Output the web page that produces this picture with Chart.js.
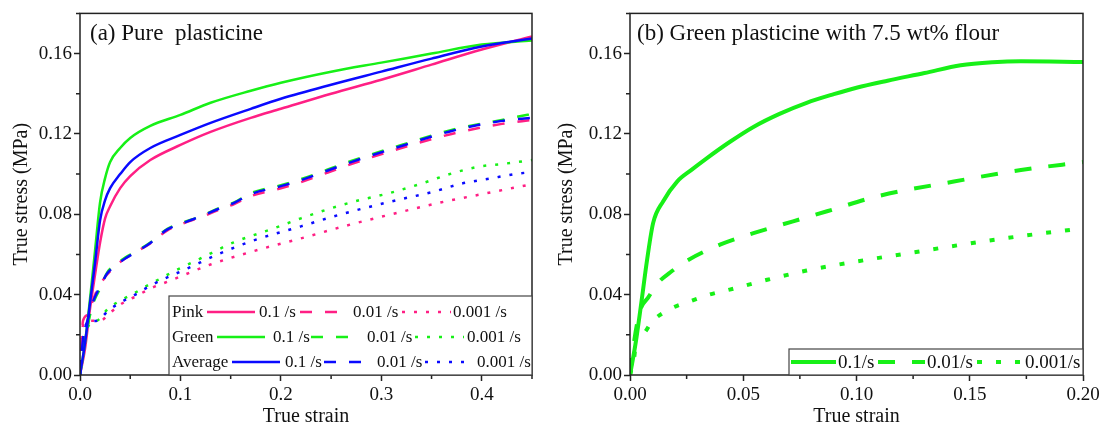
<!DOCTYPE html>
<html>
<head>
<meta charset="utf-8">
<script src="https://cdn.jsdelivr.net/npm/chart.js@4.4.1/dist/chart.umd.min.js"></script>
<style>
  html, body { margin: 0; padding: 0; background: #fff; }
  .panel { position: absolute; top: 0; width: 552px; height: 429px; }
  #panelA { left: 0; }
  #panelB { left: 552px; }
</style>
</head>
<body>
<div class="panel" id="panelA"><canvas id="chartA"></canvas></div>
<div class="panel" id="panelB"><canvas id="chartB"></canvas></div>
<script>
// ---- (a) pure plasticine: true strain vs true stress (MPa) ----
const solidStrainA = [0, 0.005, 0.01, 0.015, 0.02, 0.025, 0.03, 0.04, 0.05, 0.07, 0.1, 0.13, 0.17, 0.2, 0.25, 0.3, 0.35, 0.4, 0.45];
const pinkSolid  = [0, 0.013, 0.033, 0.050, 0.066, 0.078, 0.084, 0.093, 0.099, 0.107, 0.1145, 0.121, 0.128, 0.1325, 0.140, 0.147, 0.1545, 0.162, 0.1685];
const greenSolid = [0, 0.016, 0.038, 0.062, 0.086, 0.098, 0.106, 0.113, 0.118, 0.124, 0.1295, 0.1355, 0.1415, 0.1455, 0.151, 0.1555, 0.160, 0.1645, 0.1665];
const blueSolid  = [0, 0.016, 0.036, 0.056, 0.077, 0.087, 0.093, 0.100, 0.106, 0.113, 0.1195, 0.1255, 0.1325, 0.1375, 0.1445, 0.151, 0.1575, 0.1635, 0.1675];

const dashStrainA = [0, 0.003, 0.008, 0.012, 0.015, 0.02, 0.027, 0.037, 0.045, 0.055, 0.07, 0.087, 0.103, 0.12, 0.137, 0.153, 0.17, 0.2, 0.22, 0.27, 0.32, 0.37, 0.42, 0.45];
const pinkDash  = [0, 0.027, 0.030, 0.036, 0.040, 0.045, 0.050, 0.055, 0.058, 0.061, 0.0655, 0.072, 0.0755, 0.0785, 0.082, 0.085, 0.089, 0.093, 0.096, 0.105, 0.113, 0.120, 0.125, 0.127];
const greenDash = [0, 0.012, 0.025, 0.034, 0.038, 0.043, 0.051, 0.0555, 0.0585, 0.0612, 0.066, 0.0728, 0.076, 0.079, 0.0828, 0.0858, 0.0905, 0.0945, 0.0975, 0.1065, 0.1145, 0.122, 0.127, 0.130];
const blueDash  = [0, 0.018, 0.028, 0.035, 0.039, 0.044, 0.0505, 0.055, 0.058, 0.061, 0.0657, 0.0725, 0.0757, 0.079, 0.0825, 0.0856, 0.090, 0.094, 0.097, 0.106, 0.114, 0.1215, 0.1265, 0.128];

const pinkDotStrain  = [0, 0.003, 0.01, 0.02, 0.03, 0.04, 0.055, 0.07, 0.09, 0.13, 0.173, 0.22, 0.27, 0.31, 0.36, 0.4, 0.45];
const pinkDot        = [0, 0.025, 0.027, 0.027, 0.031, 0.035, 0.039, 0.043, 0.047, 0.055, 0.0617, 0.068, 0.075, 0.080, 0.086, 0.090, 0.095];
const greenDotStrain = [0, 0.004, 0.008, 0.017, 0.028, 0.04, 0.055, 0.065, 0.08, 0.095, 0.12, 0.153, 0.193, 0.22, 0.25, 0.278, 0.307, 0.337, 0.37, 0.397, 0.423, 0.45];
const greenDot       = [0, 0.015, 0.024, 0.027, 0.033, 0.037, 0.041, 0.044, 0.048, 0.052, 0.058, 0.066, 0.073, 0.078, 0.083, 0.087, 0.0904, 0.0948, 0.1003, 0.1037, 0.1052, 0.107];
const blueDotStrain  = [0, 0.003, 0.008, 0.017, 0.028, 0.04, 0.055, 0.065, 0.08, 0.107, 0.137, 0.173, 0.22, 0.26, 0.31, 0.353, 0.38, 0.408, 0.437, 0.45];
const blueDot        = [0, 0.018, 0.026, 0.027, 0.032, 0.036, 0.040, 0.043, 0.047, 0.053, 0.060, 0.067, 0.074, 0.080, 0.0864, 0.0914, 0.0953, 0.0978, 0.1003, 0.101];

// ---- (b) green plasticine with 7.5 wt% flour ----
const fastStrainB = [0, 0.0025, 0.005, 0.0075, 0.0102, 0.0146, 0.0208, 0.027, 0.034, 0.044, 0.0545, 0.066, 0.078, 0.09, 0.1, 0.1137, 0.13, 0.146, 0.16, 0.1726, 0.2];
const fastStressB = [0, 0.016, 0.036, 0.057, 0.0756, 0.0864, 0.0963, 0.102, 0.108, 0.116, 0.1235, 0.130, 0.1355, 0.1398, 0.143, 0.1465, 0.1503, 0.1542, 0.1557, 0.1562, 0.1558];
const midStrainB  = [0, 0.002, 0.0044, 0.008, 0.0125, 0.0177, 0.025, 0.04, 0.0545, 0.072, 0.087, 0.109, 0.143, 0.1726, 0.2];
const midStressB  = [0, 0.018, 0.032, 0.0385, 0.046, 0.051, 0.0568, 0.065, 0.0706, 0.0765, 0.0815, 0.0889, 0.0963, 0.102, 0.106];
const slowStrainB = [0, 0.002, 0.003, 0.005, 0.01, 0.018, 0.026, 0.035, 0.044, 0.0606, 0.078, 0.1, 0.125, 0.15, 0.175, 0.2];
const slowStressB = [0, 0.01, 0.022, 0.02, 0.027, 0.033, 0.0365, 0.040, 0.0425, 0.0474, 0.052, 0.0565, 0.061, 0.0655, 0.0695, 0.073];

// ticks and legend text
const xTicksA = [0, 0.1, 0.2, 0.3, 0.4];
const xTicksB = [0, 0.05, 0.10, 0.15, 0.20];
const yTicks  = [0, 0.04, 0.08, 0.12, 0.16];
const sampleNames = ['Pink', 'Green', 'Average'];
const rateLabelsA = ['0.1 /s', '0.01 /s', '0.001 /s'];
const rateLabelsB = ['0.1/s', '0.01/s', '0.001/s'];

const PINK = '#ff1f84', GREEN = '#17f017', BLUE = '#0a0aff';
const SERIF = "'Liberation Serif', 'Times New Roman', serif";
const INK = '#111';

Chart.defaults.font.family = SERIF;
Chart.defaults.color = INK;

const pts = (xs, ys) => xs.map((x, i) => ({ x, y: ys[i] }));

function series(label, xs, ys, color, dash, width, order) {
  return {
    label, data: pts(xs, ys),
    borderColor: color, backgroundColor: color,
    borderWidth: width, borderDash: dash, borderCapStyle: 'butt',
    pointRadius: 0, cubicInterpolationMode: 'monotone', order
  };
}

// frame, minor ticks, panel title and the hand-laid legend
const panelDecor = {
  id: 'panelDecor',
  afterDraw(chart, args, o) {
    const { ctx, chartArea: a, scales: { x, y } } = chart;
    ctx.save();
    ctx.strokeStyle = '#222';
    ctx.lineWidth = 1.5;

    ctx.beginPath();
    for (let v = o.xMinor[0]; v <= x.max + 1e-9; v += o.xMinor[1]) {
      const px = x.getPixelForValue(v);
      ctx.moveTo(px, a.bottom); ctx.lineTo(px, a.bottom + 4);
    }
    for (let v = o.yMinor[0]; v <= y.max + 1e-9; v += o.yMinor[1]) {
      const py = y.getPixelForValue(v);
      ctx.moveTo(a.left, py); ctx.lineTo(a.left - 4, py);
    }
    ctx.stroke();
    ctx.strokeRect(a.left, a.top, a.width, a.height);

    ctx.fillStyle = INK;
    ctx.textBaseline = 'middle';
    ctx.textAlign = 'left';
    ctx.font = `23px ${SERIF}`;
    ctx.fillText(o.title, o.titleX, 34);

    // legend box
    const L = o.legend;
    ctx.fillStyle = '#fff';
    ctx.fillRect(L.box[0], L.box[1], a.right - L.box[0], a.bottom - L.box[1]);
    ctx.lineWidth = 1.2;
    ctx.strokeStyle = '#444';
    ctx.strokeRect(L.box[0], L.box[1], a.right - L.box[0], a.bottom - L.box[1]);
    ctx.font = `${L.font}px ${SERIF}`;
    L.rows.forEach(row => {
      ctx.fillStyle = INK;
      if (row.name) ctx.fillText(row.name, row.nameX, row.y + 1);
      row.items.forEach(([di, x0, x1, tx], k) => {
        const ds = chart.data.datasets[di];
        ctx.save();
        ctx.strokeStyle = ds.borderColor;
        ctx.lineWidth = ds.borderWidth;
        ctx.setLineDash(ds.borderDash || []);
        ctx.beginPath(); ctx.moveTo(x0, row.y); ctx.lineTo(x1, row.y); ctx.stroke();
        ctx.restore();
        ctx.fillStyle = INK;
        ctx.fillText(L.labels[k], tx, row.y + 1);
      });
    });
    ctx.restore();
  }
};

function axes(xTicks, xMax, xDigits, yWidth, yTitlePad) {
  const tickFont = { size: 19, family: SERIF };
  const common = {
    border: { display: false },
    grid: { drawOnChartArea: false, drawTicks: true, tickLength: 6, tickWidth: 1.5, tickColor: '#222' },
  };
  return {
    x: {
      ...common, type: 'linear', min: 0, max: xMax,
      afterBuildTicks: s => { s.ticks = xTicks.map(v => ({ value: v })); },
      afterFit: s => { s.height = 54; },
      ticks: { font: tickFont, color: INK, padding: 3, maxRotation: 0, autoSkip: false,
               callback: v => v.toFixed(xDigits) },
      title: { display: true, text: 'True strain', font: { size: 20, family: SERIF }, color: INK,
               padding: { top: 0, bottom: 0 } }
    },
    y: {
      ...common, min: 0, max: 0.18,
      afterBuildTicks: s => { s.ticks = yTicks.map(v => ({ value: v })); },
      afterFit: s => { s.width = yWidth; },
      ticks: { font: tickFont, color: INK, padding: 2, callback: v => v.toFixed(2) },
      title: { display: true, text: 'True stress (MPa)', font: { size: 20, family: SERIF }, color: INK,
               padding: { top: yTitlePad, bottom: 0 } }
    }
  };
}

const baseOptions = (scales, padRight, decor) => ({
  responsive: true, maintainAspectRatio: false, animation: false, devicePixelRatio: 1,
  layout: { padding: { top: 9, right: padRight, left: 0, bottom: 0 } },
  plugins: { legend: { display: false }, tooltip: { enabled: false }, panelDecor: decor },
  scales
});

const LW = 2.5, DASH_A = [12, 13], DOT_A = [3, 9];

new Chart(document.getElementById('chartA'), {
  type: 'line',
  plugins: [panelDecor],
  data: {
    datasets: [
      series('Pink 0.1 /s', solidStrainA, pinkSolid, PINK, [], LW, 2),
      series('Pink 0.01 /s', dashStrainA, pinkDash, PINK, DASH_A, LW, 2),
      series('Pink 0.001 /s', pinkDotStrain, pinkDot, PINK, DOT_A, LW, 2),
      series('Green 0.1 /s', solidStrainA, greenSolid, GREEN, [], LW, 1),
      series('Green 0.01 /s', dashStrainA, greenDash, GREEN, DASH_A, LW, 1),
      series('Green 0.001 /s', greenDotStrain, greenDot, GREEN, DOT_A, LW, 1),
      series('Average 0.1 /s', solidStrainA, blueSolid, BLUE, [], LW, 0),
      series('Average 0.01 /s', dashStrainA, blueDash, BLUE, DASH_A, LW, 0),
      series('Average 0.001 /s', blueDotStrain, blueDot, BLUE, DOT_A, LW, 0)
    ]
  },
  options: baseOptions(axes(xTicksA, 0.45, 1, 80, 10), 20, {
    title: '(a) Pure  plasticine', titleX: 90,
    xMinor: [0.05, 0.1], yMinor: [0.02, 0.04],
    legend: {
      box: [169, 296], font: 17, labels: rateLabelsA,
      rows: [
        { name: sampleNames[0], nameX: 172, y: 312, items: [[0, 207, 255, 259], [1, 300, 338, 353], [2, 402, 451, 453]] },
        { name: sampleNames[1], nameX: 172, y: 337, items: [[3, 217, 265, 273], [4, 311, 349, 367], [5, 415, 464, 467]] },
        { name: sampleNames[2], nameX: 172, y: 362, items: [[6, 232, 280, 285], [7, 324, 362, 377], [8, 425, 473, 477]] }
      ]
    }
  })
});

const LWB = 4;

new Chart(document.getElementById('chartB'), {
  type: 'line',
  plugins: [panelDecor],
  data: {
    datasets: [
      series('0.1/s', fastStrainB, fastStressB, GREEN, [], LWB, 0),
      series('0.01/s', midStrainB, midStressB, GREEN, [17, 17], LWB, 1),
      series('0.001/s', slowStrainB, slowStressB, GREEN, [5, 14], LWB, 2)
    ]
  },
  options: baseOptions(axes(xTicksB, 0.2, 2, 78, 3), 21, {
    title: '(b) Green plasticine with 7.5 wt% flour', titleX: 85,
    xMinor: [0.025, 0.05], yMinor: [0.02, 0.04],
    legend: {
      box: [237, 349], font: 19, labels: rateLabelsB,
      rows: [
        { y: 362, items: [[0, 239, 284, 286], [1, 326, 373, 375], [2, 425, 470, 473]] }
      ]
    }
  })
});
</script>
</body>
</html>
